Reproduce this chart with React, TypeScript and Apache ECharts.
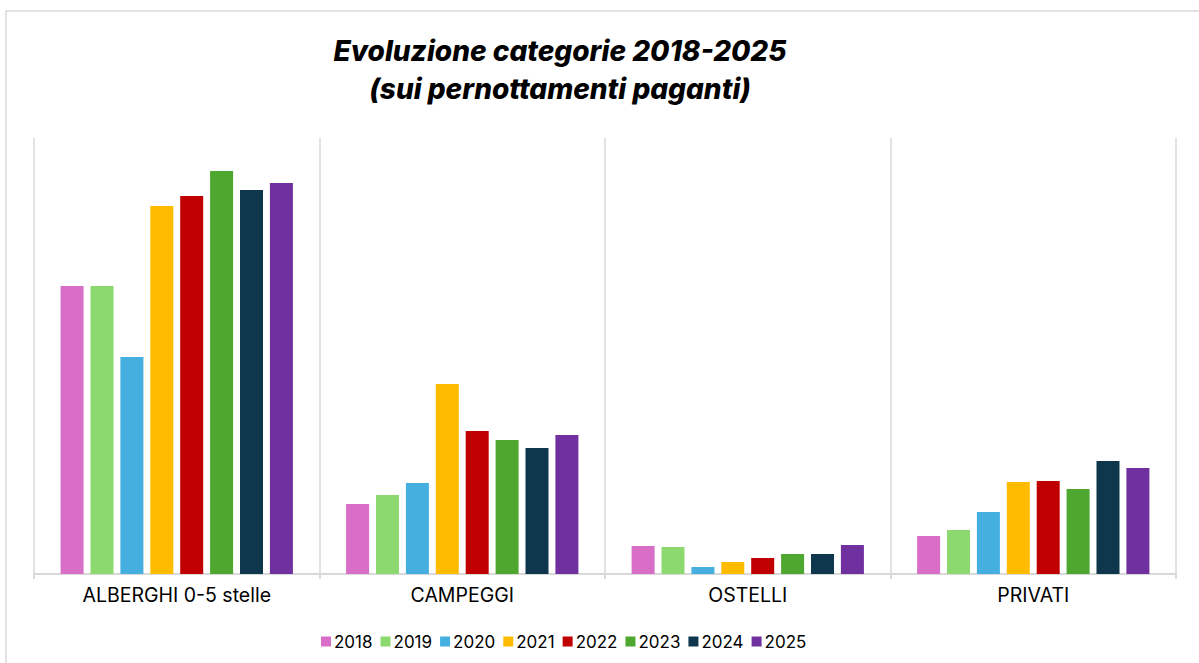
import React, { useEffect, useRef } from "react";
import * as echarts from "echarts";

const categories = ["ALBERGHI 0-5 stelle", "CAMPEGGI", "OSTELLI", "PRIVATI"];
const years = ["2018", "2019", "2020", "2021", "2022", "2023", "2024", "2025"];
const colors = ["#d86ec8", "#8cd970", "#45b0e0", "#ffbb00", "#c00000", "#4ea72e", "#0e364d", "#7030a0"];

// values (index)
const v2018 = [288, 70, 28, 38];
const v2019 = [288, 79, 27, 44];
const v2020 = [217, 91, 7, 62];
const v2021 = [368, 190, 12, 92];
const v2022 = [378, 143, 16, 93];
const v2023 = [403, 134, 20, 85];
const v2024 = [384, 126, 20, 113];
const v2025 = [391, 139, 29, 106];
const seriesValues = [v2018, v2019, v2020, v2021, v2022, v2023, v2024, v2025];

export default function App() {
  const ref = useRef<HTMLDivElement>(null);
  useEffect(() => {
    document.body.style.margin = "0";
    const chart = echarts.init(ref.current!, null, { renderer: "svg" });
    chart.setOption({
      animation: false,
      backgroundColor: "#ffffff",
      title: {
        text: "Evoluzione categorie 2018-2025\n(sui pernottamenti paganti)",
        left: 555,
        top: 27,
        textAlign: "center",
        textStyle: {
          fontFamily: "Inter",
          fontStyle: "italic",
          fontWeight: 800,
          fontSize: 28,
          lineHeight: 38,
          color: "#000000",
        },
      },
      graphic: [
        {
          type: "rect",
          shape: { x: 6, y: 11, width: 1300, height: 800 },
          style: { fill: "none", stroke: "#d9d9d9", lineWidth: 1.5 },
          silent: true,
        },
      ],
      legend: {
        data: years,
        left: 316,
        top: 628,
        itemWidth: 10,
        itemHeight: 10,
        itemGap: 8,
        icon: "rect",
        textStyle: { fontFamily: "Inter", fontSize: 17, color: "#000", padding: [0, 0, 0, -2] },
      },
      grid: { left: 34, right: 23, top: 138, bottom: 89, containLabel: false },
      xAxis: {
        type: "category",
        data: categories,
        axisLine: { show: true, lineStyle: { color: "#d9d9d9", width: 2 } },
        axisTick: { show: true, length: 5, lineStyle: { color: "#d9d9d9", width: 2 } },
        splitLine: { show: true, lineStyle: { color: "#d9d9d9", width: 1.5 } },
        axisLabel: { fontFamily: "Inter", fontSize: 19.5, color: "#000", margin: 11 },
      },
      yAxis: {
        type: "value",
        min: 0,
        max: 436,
        show: false,
        splitLine: { show: false },
      },
      series: years.map((y, i) => ({
        name: y,
        type: "bar",
        data: seriesValues[i],
        barWidth: 23,
        barGap: "30%",
        itemStyle: { color: colors[i] },
      })),
    });
    return () => chart.dispose();
  }, []);
  return <div ref={ref} style={{ width: 1199, height: 663 }} />;
}
